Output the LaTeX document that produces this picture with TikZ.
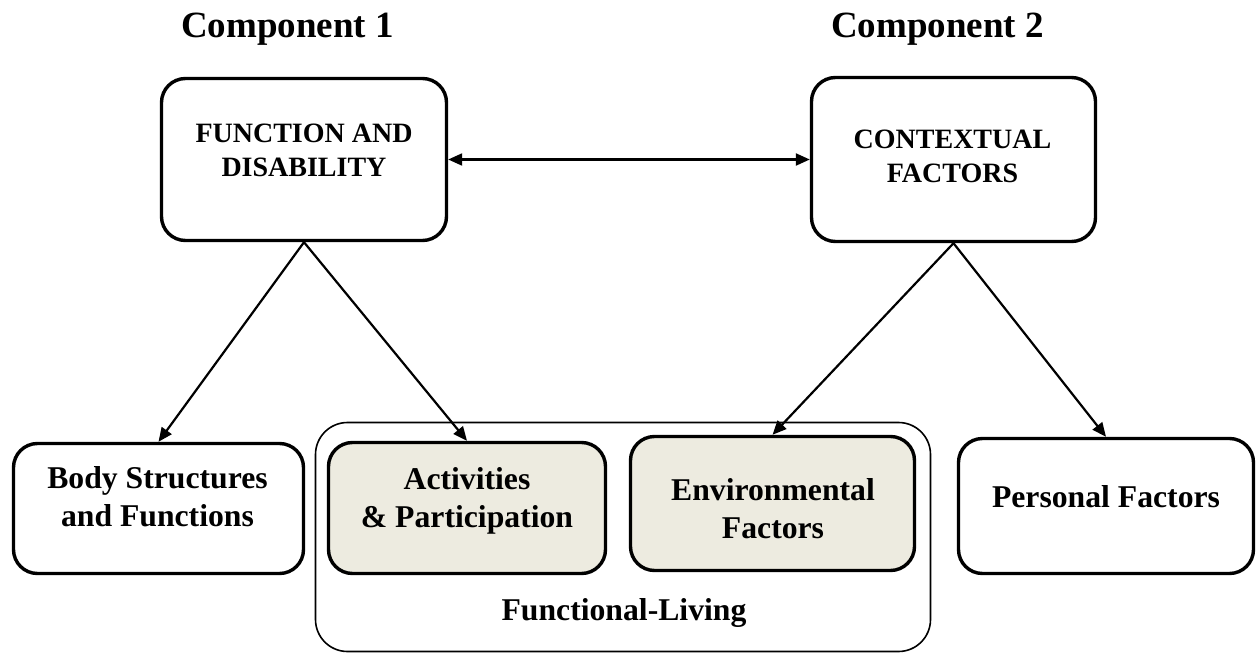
\documentclass[tikz,border=0pt]{standalone}
\usepackage{fontspec}
\setmainfont{Liberation Serif}
\usetikzlibrary{arrows.meta}
\definecolor{beige}{RGB}{237,235,224}
\tikzset{
  box/.style={draw=black, line width=3.4pt, rounded corners=24pt, inner sep=0pt, fill=white},
  shaded/.style={box, fill=beige},
  outerbox/.style={draw=black, line width=1.6pt, rounded corners=32pt, inner sep=0pt},
  toptext/.style={font=\fontsize{28}{34}\selectfont\bfseries, align=center, anchor=base, inner sep=0pt},
  bottext/.style={font=\fontsize{31.7}{38}\selectfont\bfseries, align=center, anchor=base, inner sep=0pt},
  titletext/.style={font=\fontsize{37}{44}\selectfont\bfseries, anchor=base, inner sep=0pt},
  arr/.style={line width=2.2pt, -{Triangle[length=14pt,width=12pt]}},
  darr/.style={line width=2.2pt, {Triangle[length=14pt,width=12pt]}-{Triangle[length=14pt,width=12pt]}}
}
\begin{document}
\begin{tikzpicture}[x=1pt,y=-1pt]
\useasboundingbox (0,0) rectangle (1259,653);
% titles
\node[titletext] (t1) at (287.5,37) {Component 1};
\node[titletext] (t2) at (937.5,37) {Component 2};
% outer group
\node[outerbox, minimum width=615pt, minimum height=229pt] (fl) at (623,537) {};
\node[bottext] (flt) at (624,620) {Functional-Living};
% top boxes
\node[box, minimum width=285pt, minimum height=162pt] (f) at (304,159.5) {};
\node[toptext] (ft) at (304,176) {FUNCTION AND\\DISABILITY};
\node[box, minimum width=284pt, minimum height=164pt] (c) at (953.5,159.5) {};
\node[toptext] (ct) at (952.5,182) {CONTEXTUAL\\FACTORS};
% bottom boxes
\node[box, minimum width=290pt, minimum height=130pt] (b) at (158.5,508.5) {};
\node[bottext] (bt) at (157.5,526) {Body Structures\\and Functions};
\node[shaded, minimum width=277pt, minimum height=131pt] (a) at (467,508) {};
\node[bottext] (at) at (467,527) {Activities\\\& Participation};
\node[shaded, minimum width=284pt, minimum height=134pt] (e) at (772.5,503.5) {};
\node[bottext] (et) at (773,538) {Environmental\\Factors};
\node[box, minimum width=295pt, minimum height=135pt] (p) at (1106,506) {};
\node[bottext] (pt) at (1106,507) {Personal Factors};
% connectors
\draw[darr] (f.east) -- (c.west);
\draw[arr] (f.south) -- (b.north);
\draw[arr] (f.south) -- (a.north);
\draw[arr] (c.south) -- (e.north);
\draw[arr] (c.south) -- (p.north);
\end{tikzpicture}
\end{document}
